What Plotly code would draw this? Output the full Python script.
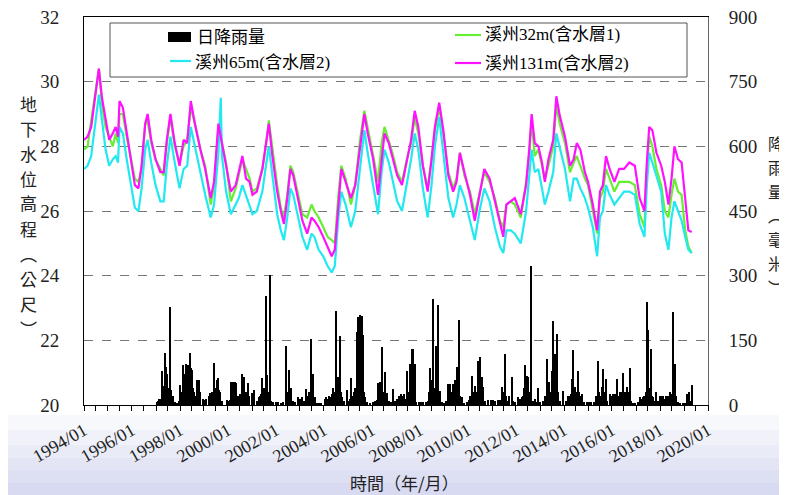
import datetime as dt
import plotly.graph_objects as go

# ---------------- data ----------------
wl_year = [1994.00, 1994.15, 1994.30, 1994.45, 1994.62, 1994.75, 1994.90, 1995.05, 1995.20, 1995.32,
           1995.42, 1995.48, 1995.62, 1995.78, 1995.95, 1996.12, 1996.27, 1996.40, 1996.55, 1996.65,
           1996.80, 1996.98, 1997.18, 1997.32, 1997.45, 1997.60, 1997.78, 1997.98, 1998.15, 1998.30,
           1998.45, 1998.62, 1998.85, 1999.05, 1999.28, 1999.42, 1999.60, 1999.70, 1999.75, 1999.92,
           2000.12, 2000.32, 2000.45, 2000.60, 2000.75, 2000.90, 2001.02, 2001.20, 2001.43, 2001.58,
           2001.70, 2001.85, 2002.05, 2002.20, 2002.33, 2002.47, 2002.60, 2002.72, 2002.90, 2003.10,
           2003.30, 2003.48, 2003.60, 2003.78, 2003.97, 2004.15, 2004.32, 2004.45, 2004.60, 2004.72,
           2004.90, 2005.12, 2005.30, 2005.50, 2005.68, 2005.82, 2006.05, 2006.25, 2006.40, 2006.52,
           2006.70, 2006.85, 2007.05, 2007.25, 2007.48, 2007.63, 2007.78, 2007.93, 2008.12, 2008.32,
           2008.48, 2008.62, 2008.80, 2008.97, 2009.18, 2009.38, 2009.52, 2009.66, 2009.85, 2010.08,
           2010.28, 2010.48, 2010.68, 2010.90, 2011.12, 2011.33, 2011.47, 2011.60, 2011.78, 2011.95,
           2012.20, 2012.42, 2012.56, 2012.65, 2012.78, 2012.93, 2013.08, 2013.20, 2013.35, 2013.55,
           2013.68, 2013.82, 2014.04, 2014.25, 2014.40, 2014.53, 2014.68, 2014.87, 2015.00, 2015.20,
           2015.38, 2015.50, 2015.62, 2015.75, 2015.90, 2016.10, 2016.30, 2016.50, 2016.72, 2016.95,
           2017.15, 2017.35, 2017.45, 2017.55, 2017.68, 2017.85, 2018.05, 2018.20, 2018.35, 2018.48,
           2018.60, 2018.75, 2018.90, 2019.05, 2019.18, 2019.32]

well_32m = [27.9, 28.0, 28.8, 29.6, 30.4, 29.3, 28.6, 28.3, 28.0, 28.4,
            28.1, 29.0, 29.0, 28.3, 27.6, 27.0, 26.9, 27.3, 28.7, 28.8,
            28.1, 27.6, 27.3, 27.1, 28.1, 28.9, 28.0, 27.5, 28.0, 28.2,
            29.2, 28.7, 27.9, 27.4, 26.2, 26.8, 28.6, 28.2, 28.1, 27.5,
            26.3, 26.7, 27.1, 27.6, 27.3, 27.0, 26.6, 26.7, 27.3, 28.0,
            28.8, 27.9, 26.8, 26.1, 25.8, 26.5, 27.4, 27.2, 26.6, 25.9,
            25.8, 26.2, 26.0, 25.8, 25.5, 25.2, 25.1, 25.0, 26.5, 27.4,
            27.0, 26.2, 26.8, 28.2, 29.1, 28.6, 27.7, 26.9, 28.1, 28.6,
            28.2, 27.8, 27.2, 26.9, 27.7, 28.1, 28.9, 28.4, 27.4, 26.7,
            27.6, 28.5, 29.2, 28.4, 27.2, 26.7, 27.0, 27.8, 27.1, 26.6,
            25.9, 26.6, 27.2, 26.9, 26.4, 25.7, 25.5, 26.2, 26.3, 26.2,
            25.8, 26.9, 27.8, 28.8, 27.7, 27.9, 27.4, 27.0, 27.4, 28.0,
            29.3, 28.7, 28.1, 27.2, 27.5, 27.7, 27.4, 27.0, 26.8, 26.0,
            25.3, 26.4, 26.6, 27.3, 27.0, 26.6, 26.9, 26.9, 26.9, 26.8,
            25.9, 25.5, 27.3, 28.3, 28.0, 27.3, 26.8, 26.0, 25.8, 26.5,
            27.0, 26.6, 26.5, 25.4, 24.9, 24.7]

well_65m = [27.3, 27.4, 27.7, 28.6, 29.6, 28.8, 27.9, 27.4, 27.6, 27.7,
            27.5, 28.6, 28.4, 27.6, 26.8, 26.1, 26.0, 26.7, 27.9, 28.2,
            27.5, 26.8, 26.3, 26.3, 27.4, 28.3, 27.5, 26.7, 27.3, 27.4,
            28.6, 28.0, 27.2, 26.5, 25.8, 26.2, 27.8, 29.5, 27.7, 26.6,
            25.9, 26.2, 26.4, 26.8, 26.5, 26.2, 25.9, 26.0, 26.6, 27.4,
            28.0, 27.1, 25.9, 25.4, 25.1, 25.8, 26.7, 26.5, 25.9, 25.2,
            24.8, 25.3, 25.2, 24.8, 24.6, 24.3, 24.1, 24.3, 25.8, 26.6,
            26.2, 25.5, 26.0, 27.4, 28.5, 27.8, 26.8, 25.9, 27.2, 27.9,
            27.5, 27.0, 26.3, 26.0, 26.9, 27.6, 28.4, 27.9, 26.7, 25.8,
            26.8, 28.0, 28.9, 27.8, 26.4, 25.8, 26.2, 26.8, 26.4, 25.7,
            25.1, 26.0, 26.7, 26.3, 25.5, 24.9, 24.7, 25.4, 25.4, 25.3,
            25.0, 26.0, 27.3, 27.9, 27.2, 27.3, 26.7, 26.2, 26.6, 27.2,
            28.4, 28.0, 27.3, 26.3, 27.0, 27.0, 26.7, 26.4, 26.1, 25.5,
            24.6, 25.8, 26.0, 26.8, 26.5, 26.2, 26.4, 26.6, 26.6, 26.5,
            25.6, 25.2, 26.8, 27.8, 27.5, 27.1, 26.6, 25.3, 24.8, 25.8,
            26.3, 26.0, 25.7, 25.2, 24.8, 24.7]

well_131m = [28.2, 28.3, 28.6, 29.4, 30.4, 29.5, 28.8, 28.2, 28.4, 28.6,
             28.3, 29.4, 29.2, 28.4, 27.6, 26.8, 26.7, 27.4, 28.7, 29.0,
             28.2, 27.6, 27.2, 27.2, 28.2, 29.0, 28.1, 27.4, 28.2, 28.1,
             29.4, 28.7, 27.9, 27.3, 26.4, 26.9, 28.7, 28.3, 28.1, 27.4,
             26.6, 26.8, 27.2, 27.7, 27.0, 26.9, 26.5, 26.6, 27.3, 28.0,
             28.7, 27.7, 26.6, 26.0, 25.6, 26.4, 27.3, 27.1, 26.4, 25.7,
             25.3, 25.8, 25.7, 25.5, 25.2, 24.9, 24.6, 24.8, 26.3, 27.3,
             26.9, 26.4, 26.8, 27.9, 29.0, 28.4, 27.6, 26.5, 27.6, 28.4,
             28.1, 27.7, 27.1, 26.8, 27.6, 28.2, 29.1, 28.6, 27.4, 26.6,
             27.6, 28.6, 29.35, 28.5, 27.1, 26.6, 26.9, 27.8, 27.2, 26.5,
             25.7, 26.5, 27.3, 27.0, 26.3, 25.6, 25.2, 26.2, 26.3, 26.4,
             25.9, 26.8, 28.0, 29.0, 28.1, 28.0, 27.5, 26.9, 27.6, 28.2,
             29.55, 28.95, 28.3, 27.4, 27.6, 28.1, 27.9, 27.2, 26.9, 26.2,
             25.4, 26.6, 26.8, 27.7, 27.3, 26.9, 27.3, 27.3, 27.5, 27.4,
             26.4, 26.0, 27.5, 28.6, 28.5, 27.8, 27.4, 26.9, 26.2, 27.0,
             28.0, 27.6, 27.5, 26.3, 25.4, 25.35]

rain_year = [
    1997.03, 1997.08, 1997.13, 1997.18, 1997.24, 1997.28, 1997.33, 1997.37, 1997.40, 1997.44,
    1997.48, 1997.52, 1997.56, 1997.61, 1997.65, 1997.70, 1997.78, 1997.88, 1997.95,
    1998.00, 1998.04, 1998.08, 1998.12, 1998.16, 1998.20, 1998.24, 1998.28, 1998.32, 1998.36,
    1998.40, 1998.44, 1998.48, 1998.52, 1998.56, 1998.60, 1998.65, 1998.72, 1998.78, 1998.83,
    1998.97, 1999.03, 1999.08,
    1999.20, 1999.25, 1999.30, 1999.35, 1999.42, 1999.46, 1999.50, 1999.53, 1999.58, 1999.62,
    1999.67, 1999.75, 1999.95, 2000.02, 2000.08,
    2000.15, 2000.20, 2000.25, 2000.30, 2000.36, 2000.42, 2000.50, 2000.57, 2000.62, 2000.68,
    2000.74, 2000.80, 2000.85, 2000.90, 2000.99, 2001.05, 2001.10, 2001.20,
    2001.30, 2001.35, 2001.40, 2001.43, 2001.48, 2001.52, 2001.57, 2001.61, 2001.65, 2001.68,
    2001.75, 2001.80, 2001.90, 2002.00, 2002.10, 2002.20, 2002.30,
    2002.44, 2002.48, 2002.55, 2002.60, 2002.65, 2002.72, 2002.80, 2002.92, 2003.02, 2003.10, 2003.18,
    2003.26, 2003.32, 2003.38, 2003.46, 2003.50, 2003.55, 2003.62, 2003.70, 2003.80, 2003.90, 2004.05,
    2004.10, 2004.16, 2004.22, 2004.28, 2004.34, 2004.39, 2004.46, 2004.50, 2004.55, 2004.60,
    2004.67, 2004.72, 2004.75, 2004.85, 2004.96, 2005.02, 2005.08,
    2005.15, 2005.20, 2005.26, 2005.31, 2005.36, 2005.40, 2005.43, 2005.47, 2005.50, 2005.54,
    2005.57, 2005.60, 2005.64, 2005.68, 2005.71, 2005.80, 2005.92, 2006.05, 2006.15,
    2006.20, 2006.26, 2006.30, 2006.33, 2006.38, 2006.44, 2006.48, 2006.54, 2006.58, 2006.64,
    2006.72, 2006.80, 2006.89, 2006.98, 2007.05, 2007.12,
    2007.20, 2007.26, 2007.32, 2007.38, 2007.45, 2007.50, 2007.55, 2007.60, 2007.66, 2007.70,
    2007.73, 2007.78, 2007.85, 2007.95, 2008.05, 2008.15, 2008.25, 2008.32,
    2008.38, 2008.42, 2008.46, 2008.49, 2008.53, 2008.56, 2008.60, 2008.64, 2008.67, 2008.71,
    2008.74, 2008.79, 2008.84, 2008.92, 2009.02, 2009.10,
    2009.18, 2009.22, 2009.27, 2009.32, 2009.39, 2009.46, 2009.53, 2009.57, 2009.61, 2009.66,
    2009.74, 2009.85, 2009.95,
    2010.05, 2010.10, 2010.16, 2010.20, 2010.25, 2010.30, 2010.35, 2010.40, 2010.43, 2010.47,
    2010.50, 2010.54, 2010.57, 2010.61, 2010.64, 2010.70, 2010.85, 2010.95, 2011.05, 2011.15,
    2011.25, 2011.33,
    2011.41, 2011.46, 2011.50, 2011.54, 2011.58, 2011.65, 2011.72, 2011.82, 2011.88, 2011.98,
    2012.10, 2012.18, 2012.25, 2012.30,
    2012.34, 2012.38, 2012.42, 2012.45, 2012.49, 2012.52, 2012.56, 2012.61, 2012.65, 2012.72,
    2012.80, 2012.88, 2012.93, 2013.02, 2013.12, 2013.20,
    2013.28, 2013.33, 2013.39, 2013.44, 2013.49, 2013.52, 2013.56, 2013.60, 2013.63, 2013.67,
    2013.70, 2013.74, 2013.77, 2013.85, 2013.98, 2014.08,
    2014.18, 2014.24, 2014.28, 2014.32, 2014.36, 2014.39, 2014.43, 2014.46, 2014.52, 2014.56,
    2014.60, 2014.65, 2014.70, 2014.74, 2014.85, 2014.95, 2015.05, 2015.15, 2015.25,
    2015.32, 2015.36, 2015.43, 2015.47, 2015.52, 2015.57, 2015.61, 2015.64, 2015.69, 2015.75,
    2015.80, 2015.92, 2015.98, 2016.05, 2016.10, 2016.15,
    2016.20, 2016.23, 2016.28, 2016.33, 2016.38, 2016.43, 2016.48, 2016.53, 2016.57, 2016.61,
    2016.66, 2016.70, 2016.75, 2016.80, 2016.88, 2016.98, 2017.08,
    2017.17, 2017.22, 2017.28, 2017.33, 2017.38, 2017.42, 2017.45, 2017.49, 2017.52, 2017.56,
    2017.61, 2017.66, 2017.73, 2017.78, 2017.84, 2017.92,
    2018.00, 2018.06, 2018.12, 2018.18, 2018.24, 2018.30, 2018.36, 2018.42, 2018.47, 2018.53,
    2018.57, 2018.60, 2018.63, 2018.68, 2018.75, 2018.85, 2018.95,
    2019.05, 2019.11, 2019.16, 2019.23, 2019.28, 2019.32]

rain_mm = [
    8, 10, 14, 15, 80, 25, 45, 30, 120, 89,
    73, 30, 40, 228, 35, 20, 8, 5, 10,
    46, 30, 25, 93, 40, 73, 95, 60, 93, 40,
    50, 120, 85, 81, 40, 30, 20, 58, 58, 30,
    15, 12, 15,
    20, 27, 20, 30, 97, 40, 30, 58, 62, 35,
    30, 10, 12, 10, 12,
    54, 54, 40, 54, 50, 20, 25, 73, 50, 66,
    30, 20, 50, 20, 27, 15, 35, 10,
    19, 20, 25, 62, 30, 40, 254, 42, 70, 30,
    302, 10, 8, 6, 8, 5, 6,
    137, 30, 81, 20, 39, 10, 8, 19, 15, 19, 10,
    36, 20, 30, 152, 30, 73, 19, 5, 4, 3, 15,
    19, 15, 20, 19, 25, 39, 30, 218, 40, 66,
    160, 30, 19, 10, 35, 10, 15,
    62, 20, 30, 40, 170, 120, 205, 60, 209, 80,
    206, 50, 162, 30, 19, 8, 5, 8, 10,
    12, 50, 20, 54, 30, 135, 30, 77, 20, 27,
    10, 8, 36, 10, 15, 20,
    26, 20, 26, 15, 80, 20, 30, 96, 130, 60,
    130, 96, 8, 6, 6, 6, 8, 10,
    30, 86, 40, 57, 30, 245, 40, 30, 138, 30,
    232, 20, 33, 6, 5, 10,
    49, 45, 49, 30, 49, 57, 88, 30, 197, 20,
    18, 5, 6,
    12, 22, 68, 22, 30, 45, 30, 25, 103, 40,
    111, 30, 64, 30, 41, 10, 12, 12, 12, 10,
    12, 12,
    41, 20, 30, 119, 20, 10, 20, 64, 10, 8,
    18, 15, 18, 20,
    40, 92, 30, 68, 40, 64, 30, 323, 20, 10,
    15, 8, 40, 6, 10, 20,
    106, 25, 53, 30, 80, 40, 194, 40, 119, 30,
    164, 30, 26, 10, 33, 10,
    22, 20, 25, 61, 30, 127, 30, 41, 25, 30,
    80, 30, 20, 26, 6, 6, 6, 6, 8,
    15, 22, 103, 30, 20, 41, 30, 84, 30, 61,
    10, 26, 20, 26, 15, 26,
    26, 61, 20, 30, 20, 30, 74, 30, 25, 41,
    20, 30, 86, 10, 5, 5, 8,
    18, 15, 18, 20, 18, 30, 239, 60, 173, 40,
    130, 20, 18, 10, 30, 10,
    22, 20, 22, 15, 22, 20, 22, 30, 25, 216,
    30, 60, 96, 20, 8, 5, 3,
    5, 26, 10, 30, 10, 47]

legend_names = ["日降雨量", "溪州32m(含水層1)", "溪州65m(含水層2)", "溪州131m(含水層2)"]
x_tick_labels = [f"{y}/01" for y in range(1994, 2021, 2)]
x_tick_vals = [f"{y}-01-01" for y in range(1994, 2021, 2)]
left_title_chars = ["地", "下", "水", "位", "高", "程", "︵", "公", "尺", "︶"]
right_title_chars = ["降", "雨", "量", "︵", "毫", "米", "︶"]
x_title = "時間（年/月）"


def to_date(y):
    yr = int(y)
    start = dt.datetime(yr, 1, 1)
    end = dt.datetime(yr + 1, 1, 1)
    return start + (end - start) * (y - yr)


wl_dates = [to_date(v) for v in wl_year]
rain_dates = [to_date(v) for v in rain_year]

# ---------------- figure geometry (page pixels; page body has an 8px margin) ----------------
OFF = 8
PAGE_W, PAGE_H = 787, 495
W, H = PAGE_W - OFF, PAGE_H - OFF
L, R, T, B = 84, 708, 17, 405          # plot area in page pixels
PW, PH = R - L, B - T


def px(xp):
    return (xp - L) / PW


def py(yp):
    return (B - yp) / PH


SERIF = "Liberation Serif, Noto Sans CJK TC, serif"
CJK = "Noto Sans CJK TC, sans-serif"

GREEN = "#66ee33"
CYAN = "#22e8f0"
MAGENTA = "#ff11ff"

fig = go.Figure()
fig.add_trace(go.Bar(x=rain_dates, y=rain_mm, yaxis="y2", name=legend_names[0],
                     marker=dict(color="black", line=dict(width=0)),
                     width=20 * 86400000, showlegend=False))
fig.add_trace(go.Scatter(x=wl_dates, y=well_32m, mode="lines", name=legend_names[1],
                         line=dict(color=GREEN, width=2.2), showlegend=False))
fig.add_trace(go.Scatter(x=wl_dates, y=well_65m, mode="lines", name=legend_names[2],
                         line=dict(color=CYAN, width=2.2), showlegend=False))
fig.add_trace(go.Scatter(x=wl_dates, y=well_131m, mode="lines", name=legend_names[3],
                         line=dict(color=MAGENTA, width=2.2), showlegend=False))

shapes = []
# background gradient (outside plot area)
bands = [(415, 430, "#f7f8fc"), (430, 445, "#f0f1f9"), (445, 458, "#e9ebf7"),
         (458, 470, "#e3e5f5"), (470, 483, "#dde0f3"), (483, 500, "#d7daf1")]
for y0, y1, c in bands:
    shapes.append(dict(type="rect", xref="paper", yref="paper", x0=px(0), x1=px(PAGE_W + 5),
                       y0=py(y1), y1=py(y0), fillcolor=c, line=dict(width=0), layer="below"))
# plot area white
shapes.append(dict(type="rect", xref="paper", yref="paper", x0=0, x1=1, y0=0, y1=1,
                   fillcolor="white", line=dict(width=0), layer="below"))
# legend box
shapes.append(dict(type="rect", xref="paper", yref="paper", x0=px(110), x1=px(687),
                   y0=py(77), y1=py(23), fillcolor="white",
                   line=dict(color="#555555", width=1), layer="above"))
# legend swatches
shapes.append(dict(type="rect", xref="paper", yref="paper", x0=px(168), x1=px(191),
                   y0=py(42), y1=py(32), fillcolor="black", line=dict(width=0), layer="above"))
shapes.append(dict(type="line", xref="paper", yref="paper", x0=px(170), x1=px(191),
                   y0=py(61), y1=py(61), line=dict(color=CYAN, width=2.2), layer="above"))
shapes.append(dict(type="line", xref="paper", yref="paper", x0=px(455), x1=px(481),
                   y0=py(35), y1=py(35), line=dict(color=GREEN, width=2.2), layer="above"))
shapes.append(dict(type="line", xref="paper", yref="paper", x0=px(455), x1=px(481),
                   y0=py(63), y1=py(63), line=dict(color=MAGENTA, width=2.2), layer="above"))

annotations = []
leg_font = dict(family=SERIF, size=17, color="black")
for xx, yy, txt in [(195, 37, legend_names[0]), (483, 35, legend_names[1]),
                    (193, 62, legend_names[2]), (483, 63, legend_names[3])]:
    annotations.append(dict(xref="paper", yref="paper", x=px(xx), y=py(yy), text=txt,
                            showarrow=False, xanchor="left", yanchor="middle", font=leg_font))

# vertical axis titles, one character per annotation (page y centres)
left_y = [103, 128, 153, 178, 203, 228, 253, 278, 303, 328]
for ch, yy in zip(left_title_chars, left_y):
    annotations.append(dict(xref="paper", yref="paper", x=px(28), y=py(yy), text=ch,
                            showarrow=False, xanchor="center", yanchor="middle",
                            font=dict(family=CJK, size=17, color="#222222")))
right_y = [143, 167, 191, 215, 239, 263, 287]
for ch, yy in zip(right_title_chars, right_y):
    annotations.append(dict(xref="paper", yref="paper", x=px(776), y=py(yy), text=ch,
                            showarrow=False, xanchor="center", yanchor="middle",
                            font=dict(family=CJK, size=16, color="#222222")))
annotations.append(dict(xref="paper", yref="paper", x=px(405), y=py(482), text=x_title,
                        showarrow=False, xanchor="center", yanchor="middle",
                        font=dict(family=CJK, size=17, color="#222222")))

fig.update_layout(
    width=W, height=H,
    margin=dict(l=L - OFF, r=PAGE_W - R, t=T - OFF, b=PAGE_H - B, pad=0, autoexpand=False),
    paper_bgcolor="white",
    plot_bgcolor="rgba(0,0,0,0)",
    showlegend=False,
    bargap=0,
    shapes=shapes,
    annotations=annotations,
    font=dict(family=SERIF, size=19, color="#222222"),
    xaxis=dict(type="date", range=["1994-01-01", "2020-01-01"], automargin=False,
               tickmode="array", tickvals=x_tick_vals, ticktext=x_tick_labels,
               tickangle=-30, ticks="outside", ticklen=5, tickcolor="black",
               showline=True, linecolor="black", linewidth=1, mirror=True,
               showgrid=False, zeroline=False, ticklabeloverflow="allow",
               minor=dict(dtick="M6", tick0="1994-01-01", ticks="outside", ticklen=5,
                          tickcolor="black", showgrid=False),
               tickfont=dict(family=SERIF, size=18, color="#222222"),
               ticklabelstandoff=2),
    yaxis=dict(range=[20, 32], tick0=20, dtick=2, showgrid=True, griddash="dash",
               gridcolor="#777777", gridwidth=1, showline=True, linecolor="black",
               linewidth=1, mirror=True, ticks="", zeroline=False, automargin=False,
               ticklabeloverflow="allow",
               tickfont=dict(family=SERIF, size=19, color="#222222"),
               ticklabelstandoff=20),
    yaxis2=dict(range=[0, 900], tick0=0, dtick=150, overlaying="y", side="right",
                showgrid=False, zeroline=False, showline=True, linecolor="#666666",
                linewidth=1, ticks="", automargin=False, ticklabeloverflow="allow",
                tickfont=dict(family=SERIF, size=19, color="#222222"),
                ticklabelstandoff=16),
)

fig.write_html("out.html")
